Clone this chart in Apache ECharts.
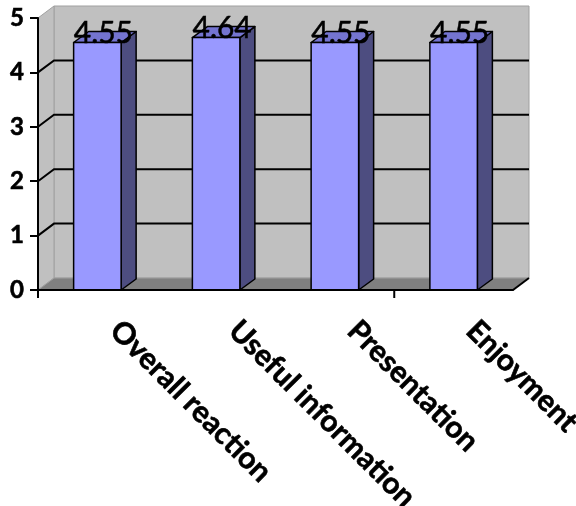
<!DOCTYPE html>
<html>
<head>
<meta charset="utf-8">
<script src="https://cdn.jsdelivr.net/npm/echarts@6/dist/echarts.min.js"></script>
<style>
  html, body { margin: 0; padding: 0; background: #fff; }
  #chart { width: 576px; height: 506px; }
</style>
</head>
<body>
<div id="chart"></div>
<script>
const categories = ['Overall reaction', 'Useful information', 'Presentation', 'Enjoyment'];
const scores = [4.55, 4.64, 4.55, 4.55];
const yTicks = [0, 1, 2, 3, 4, 5];
// category boundaries that carry a visible tick mark below the floor
const tickedBoundaries = [0, 3];

// 3D look: offset of the back plane and of each bar's back face
const wallDepth = [16, -12];
const barDepth = [15, -11];

const chart = echarts.init(document.getElementById('chart'));

// back wall, left wall, floor and the gridlines drawn on them
const renderWall = (params, api) => {
  const cs = params.coordSys;
  const [dx, dy] = wallDepth;
  const left = cs.x;
  const right = cs.x + cs.width;
  const y0 = api.coord([0, yTicks[0]])[1];
  const yTop = api.coord([0, yTicks[yTicks.length - 1]])[1];
  const band = api.size([1, 0])[0];
  const children = [
    {
      type: 'rect',
      shape: { x: left + dx, y: yTop + dy, width: cs.width, height: y0 - yTop },
      style: { fill: '#C0C0C0', stroke: '#A0A0A0', lineWidth: 1 }
    },
    {
      type: 'polygon',
      shape: { points: [[left, yTop], [left + dx, yTop + dy], [left + dx, y0 + dy], [left, y0]] },
      style: { fill: '#C0C0C0', stroke: '#A0A0A0', lineWidth: 1 }
    },
    {
      type: 'polygon',
      shape: { points: [[left, y0], [left + dx, y0 + dy], [right + dx, y0 + dy], [right, y0]] },
      style: { fill: '#808080', stroke: '#A0A0A0', lineWidth: 1 }
    },
    {
      type: 'line',
      shape: { x1: right, y1: y0, x2: right + dx, y2: y0 + dy },
      style: { stroke: '#000', lineWidth: 2 }
    }
  ];
  yTicks.slice(1, -1).forEach((t) => {
    const y = api.coord([0, t])[1];
    children.push({
      type: 'polyline',
      shape: { points: [[left, y], [left + dx, y + dy], [right + dx, y + dy]] },
      style: { stroke: '#000', lineWidth: 2, fill: null }
    });
  });
  tickedBoundaries.forEach((i) => {
    const x = api.coord([i, 0])[0] - band / 2;
    children.push({
      type: 'line',
      z2: 20,
      shape: { x1: x, y1: y0, x2: x, y2: y0 + 8 },
      style: { stroke: '#000', lineWidth: 2 }
    });
  });
  return { type: 'group', children };
};

const renderBar = (params, api) => {
  const idx = api.value(0);
  const v = api.value(1);
  const base = api.coord([idx, 0]);
  const top = api.coord([idx, v]);
  const w = api.size([1, 0])[0] * 0.4;
  const [dx, dy] = barDepth;
  const xl = base[0] - w / 2;
  const xr = base[0] + w / 2;
  const line = { stroke: '#000', lineWidth: 1.5, lineJoin: 'round' };
  return {
    type: 'group',
    children: [
      {
        type: 'polygon',
        shape: { points: [[xr, top[1]], [xr + dx, top[1] + dy], [xr + dx, base[1] + dy], [xr, base[1]]] },
        style: Object.assign({ fill: '#4D4D80' }, line)
      },
      {
        type: 'polygon',
        shape: { points: [[xl, top[1]], [xl + dx, top[1] + dy], [xr + dx, top[1] + dy], [xr, top[1]]] },
        style: Object.assign({ fill: '#7474D0' }, line)
      },
      {
        type: 'rect',
        shape: { x: xl, y: top[1], width: w, height: base[1] - top[1] },
        style: Object.assign({ fill: '#9999FF' }, line)
      },
      {
        type: 'text',
        z2: 10,
        style: {
          text: v.toFixed(2),
          x: base[0] + 6,
          y: top[1] + 6,
          align: 'center',
          verticalAlign: 'bottom',
          fontFamily: 'Lato',
          fontSize: 30,
          fill: '#000',
          stroke: '#000',
          lineWidth: 0.5
        }
      }
    ]
  };
};

const option = {
  animation: false,
  grid: { left: 38, right: 63, top: 18, bottom: 216, outerBoundsMode: 'none' },
  xAxis: {
    type: 'category',
    data: categories,
    z: 10,
    axisLine: { lineStyle: { color: '#000', width: 2 } },
    axisTick: { show: false },
    axisLabel: {
      interval: 0,
      rotate: -45,
      margin: 18,
      padding: [0, 0, 0, 25],
      color: '#000',
      fontFamily: 'Lato',
      fontWeight: 'bold',
      fontSize: 30,
      textBorderColor: '#000',
      textBorderWidth: 0.6
    }
  },
  yAxis: {
    type: 'value',
    min: 0,
    max: 5,
    interval: 1,
    z: 10,
    axisLine: { show: true, lineStyle: { color: '#000', width: 2 } },
    axisTick: { show: true, length: 8, lineStyle: { color: '#000', width: 2 } },
    splitLine: { show: false },
    axisLabel: {
      margin: 14,
      color: '#000',
      fontFamily: 'Lato',
      fontWeight: 'bold',
      fontSize: 24,
      textBorderColor: '#000',
      textBorderWidth: 0.6
    }
  },
  series: [
    {
      type: 'custom',
      renderItem: renderWall,
      data: [[0, 0]],
      silent: true,
      z: 1
    },
    {
      type: 'custom',
      renderItem: renderBar,
      data: categories.map((c, i) => [i, scores[i]]),
      z: 2
    }
  ]
};

chart.setOption(option);
</script>
</body>
</html>
